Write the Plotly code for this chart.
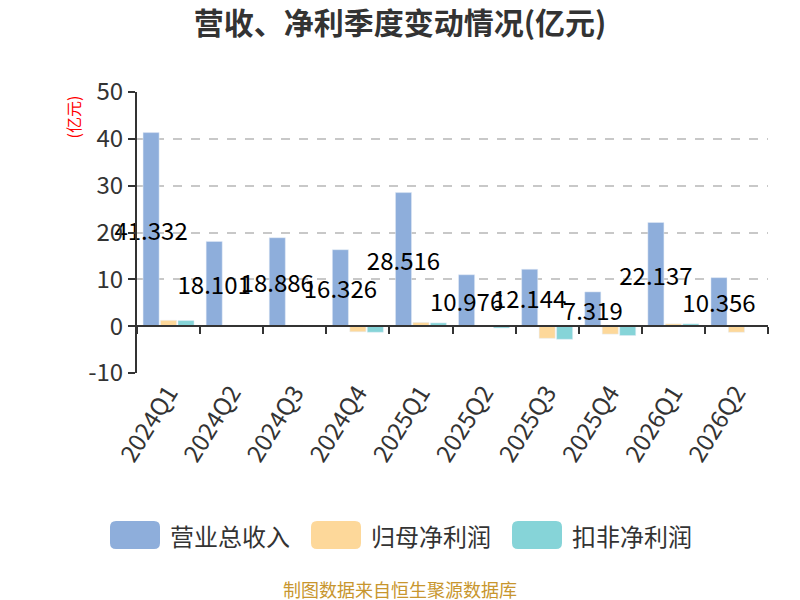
import plotly.graph_objects as go

quarters = ['2024Q1', '2024Q2', '2024Q3', '2024Q4', '2025Q1',
            '2025Q2', '2025Q3', '2025Q4', '2026Q1', '2026Q2']
revenue = [41.332, 18.101, 18.886, 16.326, 28.516, 10.976, 12.144, 7.319, 22.137, 10.356]
net_profit = [1.25, 0.2, 0.2, -1.2, 0.8, -0.1, -2.6, -1.7, 0.5, -1.3]
net_profit_ex = [1.2, 0.1, 0.1, -1.3, 0.7, -0.4, -2.8, -2.0, 0.5, -0.1]

y_ticks = [-10, 0, 10, 20, 30, 40, 50]
y_ticktext = ['-10', '0', '10', '20', '30', '40', '50']

names = ['营业总收入', '归母净利润', '扣非净利润']
colors = ['#8eaedb', '#fdd89a', '#86d4d8']

font = "Noto Sans CJK SC"
W, H = 800, 600
L, R, T, B = 129, 40, 84, 235
PW, PH = W - L - R, H - T - B


def px(x):  # figure pixel -> paper x
    return (x - L) / PW


def py(y):  # figure pixel -> paper y
    return (H - B - y) / PH


fig = go.Figure()
fig.add_trace(go.Bar(
    name=names[0], x=quarters, y=revenue, marker_color=colors[0],
    text=[f'{v:g}' for v in revenue], textposition='inside',
    insidetextanchor='middle', textangle=0, cliponaxis=False,
    textfont=dict(size=24, color='black', family=font),
))
fig.add_trace(go.Bar(name=names[1], x=quarters, y=net_profit, marker_color=colors[1]))
fig.add_trace(go.Bar(name=names[2], x=quarters, y=net_profit_ex, marker_color=colors[2]))

# axis line at zero with boundary ticks
fig.add_trace(go.Scatter(x=quarters, y=[0] * len(quarters), xaxis='x2', mode='none',
                         showlegend=False, hoverinfo='skip'))

# custom legend with big rounded swatches
shapes = []
annotations = []
for i, (name, col) in enumerate(zip(names, colors)):
    x0 = 102 + 201 * i
    x1, y0, y1 = x0 + 50, 513, 541
    r = 6
    path = (f"M {px(x0 + r)},{py(y0)} L {px(x1 - r)},{py(y0)} "
            f"Q {px(x1)},{py(y0)} {px(x1)},{py(y0 + r)} L {px(x1)},{py(y1 - r)} "
            f"Q {px(x1)},{py(y1)} {px(x1 - r)},{py(y1)} L {px(x0 + r)},{py(y1)} "
            f"Q {px(x0)},{py(y1)} {px(x0)},{py(y1 - r)} L {px(x0)},{py(y0 + r)} "
            f"Q {px(x0)},{py(y0)} {px(x0 + r)},{py(y0)} Z")
    shapes.append(dict(type='path', xref='paper', yref='paper', path=path,
                       fillcolor=col, line=dict(width=0)))
    annotations.append(dict(text=name, xref='paper', yref='paper', x=px(x1 + 8),
                            y=py(527), xanchor='left', yanchor='middle', showarrow=False,
                            font=dict(size=24, color='#333')))

annotations += [
    dict(text='(亿元)', xref='paper', yref='paper', x=px(64), y=py(86), textangle=-90,
         showarrow=False, xanchor='center', yanchor='top',
         font=dict(size=16, color='red')),
    dict(text='制图数据来自恒生聚源数据库', xref='paper', yref='paper', x=px(392),
         y=py(581), showarrow=False, xanchor='center', yanchor='middle',
         font=dict(size=18, color='#c8962e')),
]

fig.update_layout(
    width=W, height=H,
    margin=dict(l=L, r=R, t=T, b=B),
    plot_bgcolor='white', paper_bgcolor='white',
    font=dict(family=font, color='#333'),
    title=dict(text='<b>营收、净利季度变动情况(亿元)</b>', x=392 / W, y=1 - 15 / H,
               xanchor='center', yanchor='middle', font=dict(size=30, color='#333')),
    barmode='group', bargap=0.17, bargroupgap=0.08,
    uniformtext=dict(minsize=24, mode='show'),
    showlegend=False,
    xaxis=dict(showline=False, ticks='', tickangle=-58,
               tickfont=dict(size=24, color='#333'), showgrid=False),
    xaxis2=dict(overlaying='x', matches='x', anchor='free', position=1 / 6,
                showline=True, linecolor='#333', linewidth=2, ticks='outside',
                tickson='boundaries', ticklen=7, tickwidth=2, tickcolor='#333',
                showticklabels=False, showgrid=False),
    yaxis=dict(range=[-10, 50], tickvals=y_ticks, ticktext=y_ticktext,
               showline=True, linecolor='#333', linewidth=2,
               ticks='outside', ticklen=7, tickwidth=2, tickcolor='#333',
               tickfont=dict(size=24, color='#333'), zeroline=False,
               showgrid=True, gridcolor='#c8c8c8', griddash='dash', gridwidth=1.5),
    shapes=shapes,
    annotations=annotations,
)

fig.write_html("out.html")
